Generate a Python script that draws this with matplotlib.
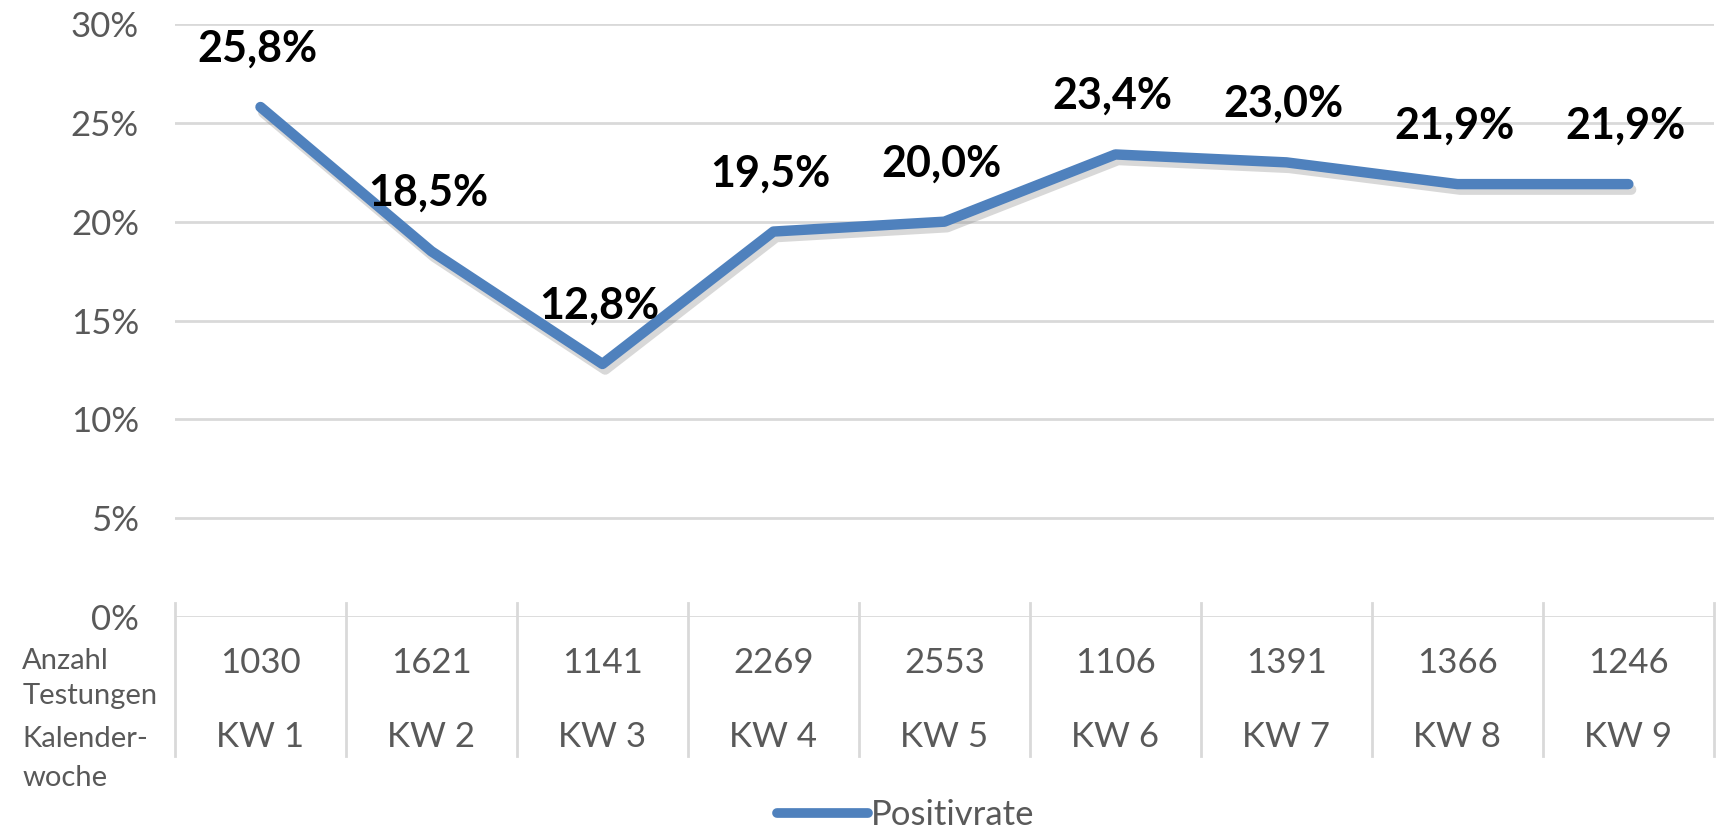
import matplotlib
matplotlib.use('Agg')
import matplotlib.pyplot as plt
import matplotlib.patheffects as pe
from matplotlib.lines import Line2D

plt.rcParams['font.family'] = ['Lato', 'DejaVu Sans']

weeks = ['KW 1', 'KW 2', 'KW 3', 'KW 4', 'KW 5', 'KW 6', 'KW 7', 'KW 8', 'KW 9']
tests = [1030, 1621, 1141, 2269, 2553, 1106, 1391, 1366, 1246]
rate = [25.8, 18.5, 12.8, 19.5, 20.0, 23.4, 23.0, 21.9, 21.9]
yticks = [0, 5, 10, 15, 20, 25, 30]

blue = '#4F81BD'
grey_txt = '#595959'
grid_c = '#D9D9D9'

fig = plt.figure(figsize=(17.19, 8.30), dpi=100)
ax = fig.add_axes([0.1018, 0.2566, 0.8952, 0.7145])

x = list(range(len(weeks)))
ax.plot(x, rate, color=blue, lw=7.5, solid_capstyle='round', solid_joinstyle='round', zorder=3,
        path_effects=[pe.SimpleLineShadow(offset=(2, -4), shadow_color='#7f7f7f', alpha=0.3),
                      pe.Normal()])

for xi, v in zip(x, rate):
    ax.annotate(f'{v:.1f}%'.replace('.', ','), (xi, v), xytext=(-2, 42), textcoords='offset points',
                ha='center', va='center', fontsize=31, fontweight='bold', color='black', zorder=4)

ax.set_xlim(-0.5, len(weeks) - 0.5)
ax.set_ylim(0, 30)
ax.set_yticks(yticks)
ax.set_yticklabels([f'{t}%' for t in yticks], fontsize=25, color=grey_txt)
ax.tick_params(axis='y', length=0, pad=26)
ax.set_xticks([])
ax.grid(axis='y', color=grid_c, lw=2)
ax.set_axisbelow(True)
for s in ax.spines.values():
    s.set_visible(False)

# table below the axis
tr = ax.get_xaxis_transform()
row2_bot = -0.234
for b in [i - 0.5 for i in range(len(weeks) + 1)]:
    ax.add_line(Line2D([b, b], [0.024, row2_bot], transform=tr, color=grid_c, lw=2, clip_on=False))
ax.add_line(Line2D([0.003, 0.997], [0.1418, 0.1418], transform=fig.transFigure, color=grid_c, lw=2))

for xi, n, w in zip(x, tests, weeks):
    ax.text(xi, -0.078, str(n), transform=tr, ha='center', va='center', fontsize=25, color=grey_txt)
    ax.text(xi, -0.202, w, transform=tr, ha='center', va='center', fontsize=25, color=grey_txt)

fig.text(0.013, 0.204, 'Anzahl', ha='left', va='center', fontsize=21, color=grey_txt)
fig.text(0.013, 0.161, 'Testungen', ha='left', va='center', fontsize=21, color=grey_txt)
fig.text(0.013, 0.110, 'Kalender-', ha='left', va='center', fontsize=21, color=grey_txt)
fig.text(0.013, 0.063, 'woche', ha='left', va='center', fontsize=21, color=grey_txt)

h = Line2D([], [], color=blue, lw=7, solid_capstyle='round')
fig.legend([h], ['Positivrate'], loc='center', bbox_to_anchor=(0.527, 0.018), frameon=False,
           fontsize=25, labelcolor=grey_txt, handlelength=2.6, handletextpad=0.1,
           borderpad=0, borderaxespad=0)

fig.savefig('out.png', dpi=100)
